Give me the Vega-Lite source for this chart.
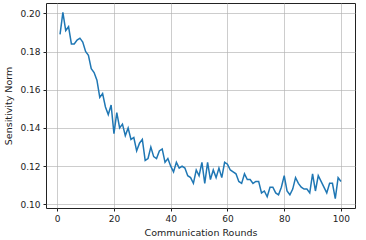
{
  "$schema": "https://vega.github.io/schema/vega-lite/v6.json",
  "autosize": "none",
  "width": 309,
  "height": 205,
  "padding": {"left": 46, "top": 3, "right": 11, "bottom": 32},
  "background": "white",
  "config": {
    "view": {"stroke": "#222", "strokeWidth": 1},
    "axis": {
      "labelFont": "DejaVu Sans",
      "titleFont": "DejaVu Sans",
      "labelFontSize": 9,
      "titleFontSize": 9.5,
      "titleFontWeight": "normal",
      "labelColor": "#222",
      "titleColor": "#222",
      "tickColor": "#222",
      "tickSize": 3,
      "domain": false,
      "gridColor": "#b0b0b0",
      "gridWidth": 0.8,
      "gridOpacity": 0.8
    }
  },
  "data": {
    "values": [
      {"r": 1, "v": 0.189}, {"r": 2, "v": 0.2005}, {"r": 3, "v": 0.191}, {"r": 4, "v": 0.193},
      {"r": 5, "v": 0.184}, {"r": 6, "v": 0.184}, {"r": 7, "v": 0.186}, {"r": 8, "v": 0.187},
      {"r": 9, "v": 0.185}, {"r": 10, "v": 0.180}, {"r": 11, "v": 0.178}, {"r": 12, "v": 0.171},
      {"r": 13, "v": 0.169}, {"r": 14, "v": 0.165}, {"r": 15, "v": 0.156}, {"r": 16, "v": 0.158},
      {"r": 17, "v": 0.151}, {"r": 18, "v": 0.147}, {"r": 19, "v": 0.152}, {"r": 20, "v": 0.137},
      {"r": 21, "v": 0.148}, {"r": 22, "v": 0.140}, {"r": 23, "v": 0.142}, {"r": 24, "v": 0.136},
      {"r": 25, "v": 0.140}, {"r": 26, "v": 0.134}, {"r": 27, "v": 0.135}, {"r": 28, "v": 0.128},
      {"r": 29, "v": 0.132}, {"r": 30, "v": 0.134}, {"r": 31, "v": 0.123}, {"r": 32, "v": 0.124},
      {"r": 33, "v": 0.130}, {"r": 34, "v": 0.125}, {"r": 35, "v": 0.124}, {"r": 36, "v": 0.128},
      {"r": 37, "v": 0.129}, {"r": 38, "v": 0.122}, {"r": 39, "v": 0.124}, {"r": 40, "v": 0.120},
      {"r": 41, "v": 0.117}, {"r": 42, "v": 0.122}, {"r": 43, "v": 0.119}, {"r": 44, "v": 0.120},
      {"r": 45, "v": 0.119}, {"r": 46, "v": 0.115}, {"r": 47, "v": 0.114}, {"r": 48, "v": 0.111},
      {"r": 49, "v": 0.118}, {"r": 50, "v": 0.115}, {"r": 51, "v": 0.122}, {"r": 52, "v": 0.111},
      {"r": 53, "v": 0.122}, {"r": 54, "v": 0.113}, {"r": 55, "v": 0.118}, {"r": 56, "v": 0.114},
      {"r": 57, "v": 0.119}, {"r": 58, "v": 0.114}, {"r": 59, "v": 0.122}, {"r": 60, "v": 0.121},
      {"r": 61, "v": 0.118}, {"r": 62, "v": 0.117}, {"r": 63, "v": 0.116}, {"r": 64, "v": 0.112},
      {"r": 65, "v": 0.111}, {"r": 66, "v": 0.116}, {"r": 67, "v": 0.113}, {"r": 68, "v": 0.113},
      {"r": 69, "v": 0.111}, {"r": 70, "v": 0.112}, {"r": 71, "v": 0.112}, {"r": 72, "v": 0.106},
      {"r": 73, "v": 0.107}, {"r": 74, "v": 0.104}, {"r": 75, "v": 0.109}, {"r": 76, "v": 0.109},
      {"r": 77, "v": 0.106}, {"r": 78, "v": 0.105}, {"r": 79, "v": 0.109}, {"r": 80, "v": 0.115},
      {"r": 81, "v": 0.107}, {"r": 82, "v": 0.105}, {"r": 83, "v": 0.108}, {"r": 84, "v": 0.114},
      {"r": 85, "v": 0.111}, {"r": 86, "v": 0.109}, {"r": 87, "v": 0.108}, {"r": 88, "v": 0.108},
      {"r": 89, "v": 0.106}, {"r": 90, "v": 0.116}, {"r": 91, "v": 0.107}, {"r": 92, "v": 0.115},
      {"r": 93, "v": 0.112}, {"r": 94, "v": 0.109}, {"r": 95, "v": 0.106}, {"r": 96, "v": 0.111},
      {"r": 97, "v": 0.111}, {"r": 98, "v": 0.103}, {"r": 99, "v": 0.114}, {"r": 100, "v": 0.112}
    ]
  },
  "mark": {"type": "line", "color": "#1f77b4", "strokeWidth": 1.5, "clip": true},
  "encoding": {
    "x": {
      "field": "r",
      "type": "quantitative",
      "scale": {"domain": [-3.95, 104.95], "nice": false, "zero": false},
      "axis": {"values": [0, 20, 40, 60, 80, 100], "title": "Communication Rounds", "titlePadding": 4, "labelPadding": 3}
    },
    "y": {
      "field": "v",
      "type": "quantitative",
      "scale": {"domain": [0.0981, 0.2054], "nice": false, "zero": false},
      "axis": {"values": [0.10, 0.12, 0.14, 0.16, 0.18, 0.20], "format": ".2f", "title": "Sensitivity Norm", "titlePadding": 6, "labelPadding": 3}
    }
  }
}
